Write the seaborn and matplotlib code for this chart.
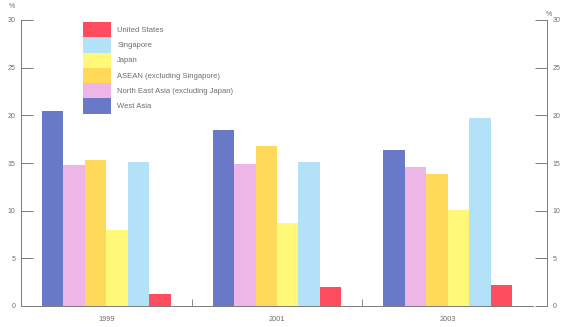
import matplotlib
matplotlib.use("Agg")
import matplotlib.pyplot as plt
from matplotlib.patches import Patch
import seaborn as sns
import pandas as pd

years = ["1999", "2001", "2003"]
regions = [
    "West Asia",
    "North East Asia (excluding Japan)",
    "ASEAN (excluding Singapore)",
    "Japan",
    "Singapore",
    "United States",
]
west_asia = [20.5, 18.5, 16.4]
north_east_asia = [14.8, 14.9, 14.6]
asean = [15.3, 16.8, 13.8]
japan = [8.0, 8.7, 10.1]
singapore = [15.1, 15.1, 19.7]
united_states = [1.3, 2.0, 2.2]

colors = ["#6a78c8", "#eeb6e6", "#ffd95a", "#fff878", "#b3e1f8", "#ff4d5f"]
text_grey = "#6e6e6e"
line_grey = "#7a7a7a"

series = [west_asia, north_east_asia, asean, japan, singapore, united_states]
df = pd.DataFrame(
    [(y, r, v) for r, vals in zip(regions, series) for y, v in zip(years, vals)],
    columns=["year", "region", "share"],
)

sns.set_theme(style="white")
plt.rcParams["font.family"] = ["Liberation Sans", "DejaVu Sans"]

fig = plt.figure(figsize=(5.67, 3.27), dpi=100)
ax = fig.add_axes([21 / 567, 1 - 306 / 327, 512 / 567, 286 / 327])

sns.barplot(
    data=df, x="year", y="share", hue="region", order=years, hue_order=regions,
    palette=colors, width=0.755, gap=0, saturation=1, linewidth=0,
    legend=False, ax=ax,
)

ax.set_xlim(-0.5, 2.5)
ax.set_ylim(0, 30)
ax.set_xlabel("")
ax.set_ylabel("")
ax.set_yticks(range(0, 31, 5))
ax.tick_params(axis="y", direction="in", length=8.6, width=0.7, color=line_grey,
               labelsize=5, labelcolor=text_grey, pad=4, left=True)
ax.tick_params(axis="x", which="major", length=0, labelsize=5.3,
               labelcolor=text_grey, pad=7.5)
ax.set_xticks([0.5, 1.5], minor=True)
ax.tick_params(axis="x", which="minor", direction="in", length=5, width=0.6,
               color=line_grey, bottom=True)

for side in ("top", "right"):
    ax.spines[side].set_visible(False)
for side in ("left", "bottom"):
    ax.spines[side].set_color(line_grey)
    ax.spines[side].set_linewidth(0.7)

# Mirrored percentage scale on the right, set slightly away from the plot
ax2 = ax.twinx()
ax2.set_ylim(0, 30)
ax2.set_yticks(range(0, 31, 5))
for side in ("top", "left", "bottom"):
    ax2.spines[side].set_visible(False)
ax2.spines["right"].set_position(("outward", 10))
ax2.spines["right"].set_color(line_grey)
ax2.spines["right"].set_linewidth(0.7)
ax2.tick_params(axis="y", direction="in", length=8.6, width=0.7, color=line_grey,
                labelsize=5, labelcolor=text_grey, pad=4, right=True)

fig.text(12 / 567, 1 - 7 / 327, "%", fontsize=5, color=text_grey,
         ha="center", va="center")
fig.text(549 / 567, 1 - 14 / 327, "%", fontsize=5, color=text_grey,
         ha="center", va="center")

handles = [Patch(facecolor=c, edgecolor="none") for c in colors][::-1]
ax.legend(
    handles, regions[::-1], loc="upper left",
    bbox_to_anchor=(83 / 567, 1 - 22 / 327), bbox_transform=fig.transFigure,
    frameon=False, fontsize=5.5, labelcolor=text_grey, handlelength=3.7,
    handleheight=2.7, labelspacing=0, handletextpad=0.8, borderpad=0,
    borderaxespad=0,
)

fig.savefig("out.png", dpi=100, facecolor="white")
